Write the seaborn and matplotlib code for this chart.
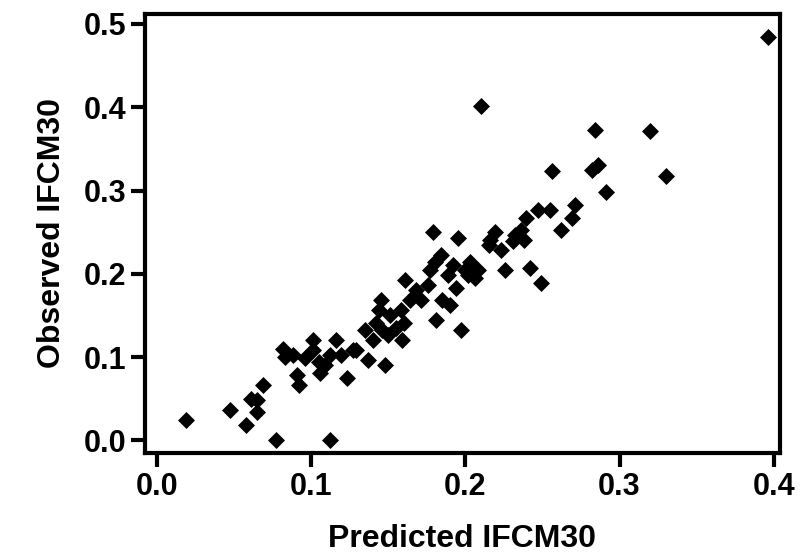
import matplotlib
matplotlib.use('Agg')
import matplotlib.pyplot as plt
import seaborn as sns
import pandas as pd

# valores
predicted = [0.019, 0.047, 0.058, 0.061, 0.065, 0.065, 0.069, 0.077, 0.112, 0.082,
             0.083, 0.088, 0.091, 0.092, 0.096, 0.101, 0.101, 0.105, 0.106, 0.109,
             0.112, 0.116, 0.119, 0.123, 0.127, 0.129, 0.135, 0.137, 0.140, 0.142,
             0.144, 0.145, 0.146, 0.148, 0.150, 0.151, 0.155, 0.158, 0.159, 0.160,
             0.161, 0.164, 0.168, 0.171, 0.176, 0.177, 0.179, 0.180, 0.181, 0.184,
             0.185, 0.189, 0.190, 0.192, 0.194, 0.195, 0.197, 0.200, 0.202, 0.203,
             0.206, 0.208, 0.210, 0.215, 0.216, 0.219, 0.223, 0.226, 0.231, 0.232,
             0.236, 0.238, 0.239, 0.242, 0.247, 0.249, 0.255, 0.256, 0.262, 0.269,
             0.271, 0.282, 0.284, 0.286, 0.291, 0.320, 0.330, 0.396]
observed = [0.024, 0.036, 0.018, 0.050, 0.034, 0.048, 0.067, 0.000, 0.000, 0.110,
            0.100, 0.102, 0.078, 0.066, 0.099, 0.120, 0.108, 0.094, 0.081, 0.090,
            0.102, 0.120, 0.102, 0.075, 0.108, 0.108, 0.133, 0.096, 0.120, 0.141,
            0.157, 0.169, 0.133, 0.090, 0.126, 0.151, 0.135, 0.157, 0.120, 0.141,
            0.193, 0.169, 0.181, 0.169, 0.187, 0.205, 0.250, 0.214, 0.145, 0.222,
            0.169, 0.199, 0.163, 0.211, 0.183, 0.243, 0.133, 0.205, 0.199, 0.214,
            0.195, 0.205, 0.401, 0.235, 0.241, 0.250, 0.229, 0.205, 0.239, 0.247,
            0.253, 0.241, 0.267, 0.207, 0.277, 0.189, 0.277, 0.323, 0.253, 0.267,
            0.283, 0.325, 0.373, 0.331, 0.298, 0.371, 0.317, 0.484]

df = pd.DataFrame({"Predicted": predicted, "Observed": observed})

sns.set_style("ticks", {"axes.edgecolor": "black", "text.color": "black",
                        "axes.labelcolor": "black", "xtick.color": "black",
                        "ytick.color": "black"})
plt.rcParams['font.family'] = ['Liberation Sans', 'DejaVu Sans']
plt.rcParams['font.weight'] = 'bold'

fig, ax = plt.subplots(figsize=(8.04, 5.59), dpi=100)
sns.scatterplot(data=df, x="Predicted", y="Observed", marker="D", s=75,
                color="black", edgecolor="black", linewidth=0, ax=ax)

ax.set_xlim(-0.008, 0.404)
ax.set_ylim(-0.015, 0.512)
ax.set_xticks([0.0, 0.1, 0.2, 0.3, 0.4])
ax.set_yticks([0.0, 0.1, 0.2, 0.3, 0.4, 0.5])
ax.xaxis.set_major_formatter(matplotlib.ticker.FormatStrFormatter('%.1f'))
ax.yaxis.set_major_formatter(matplotlib.ticker.FormatStrFormatter('%.1f'))
ax.set_xlabel("Predicted IFCM30", fontsize=23, fontweight='bold', labelpad=16)
ax.set_ylabel("Observed IFCM30", fontsize=23, fontweight='bold', labelpad=12)
ax.tick_params(labelsize=22, width=3, length=10, direction='out', colors='black')
for lab in ax.get_xticklabels() + ax.get_yticklabels():
    lab.set_fontweight('bold')
for sp in ax.spines.values():
    sp.set_visible(True)
    sp.set_linewidth(3)
    sp.set_color('black')

plt.subplots_adjust(left=0.18, right=0.97, bottom=0.19, top=0.975)
plt.savefig("out.png", dpi=100)
